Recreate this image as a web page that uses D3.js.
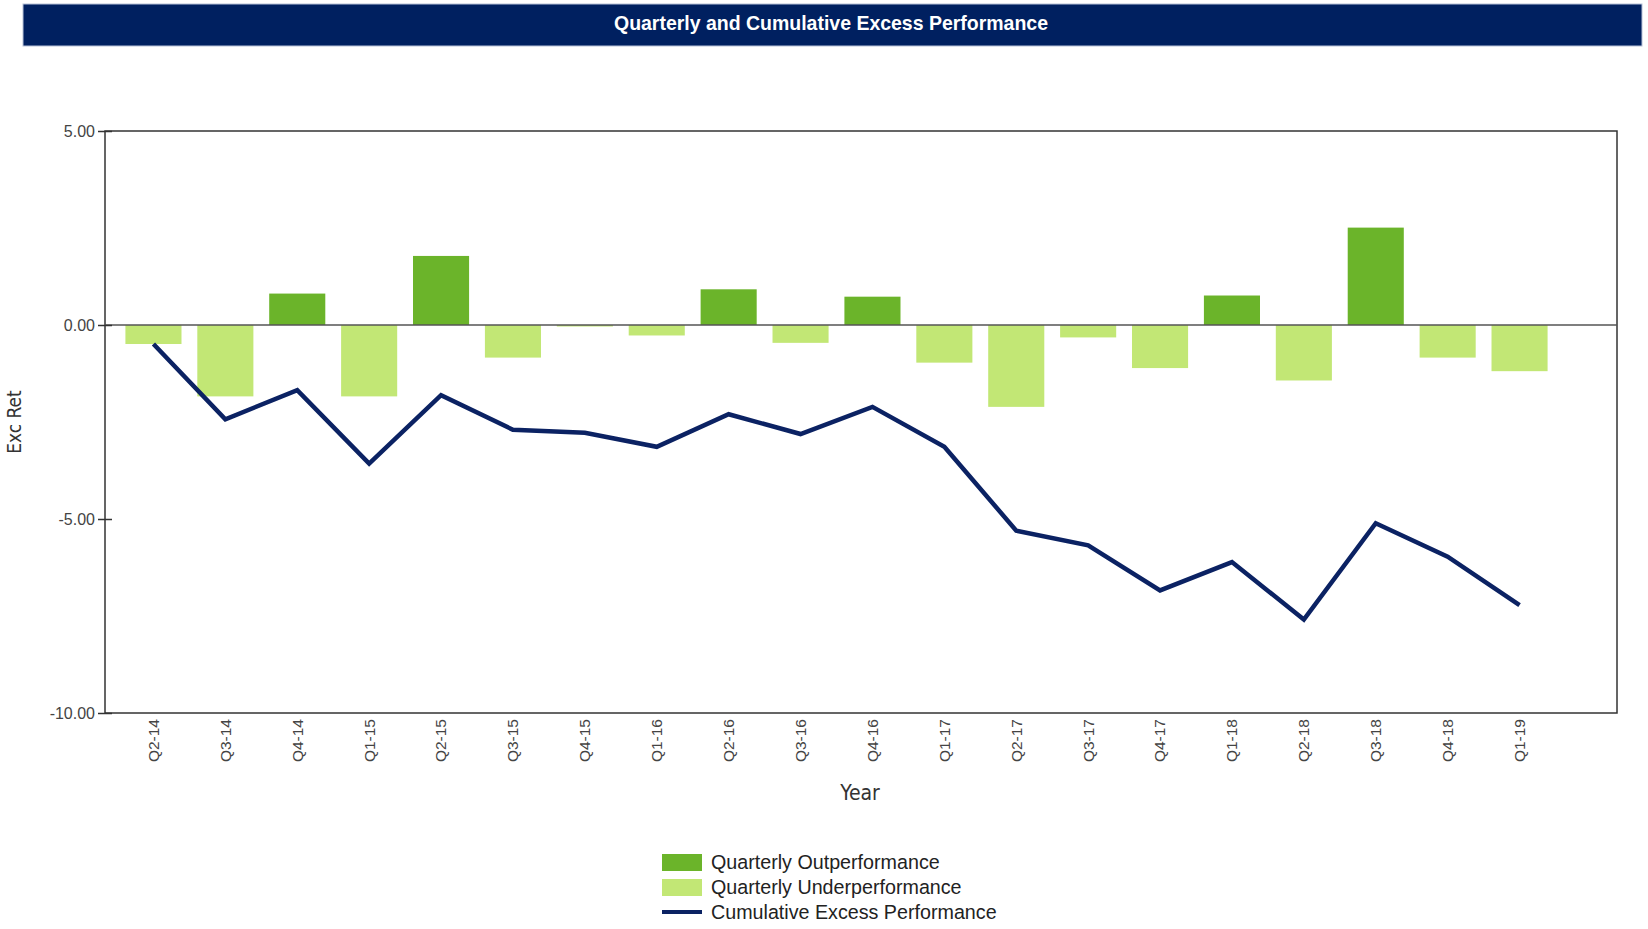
<!DOCTYPE html>
<html>
<head>
<meta charset="utf-8">
<script src="https://cdn.jsdelivr.net/npm/d3@7"></script>
<style>
  body { margin: 0; background: #fff; }
  text { font-family: "Liberation Sans", Arial, sans-serif; }
</style>
</head>
<body>
<div id="chart"></div>
<script>
// data
const quarters = ["Q2-14","Q3-14","Q4-14","Q1-15","Q2-15","Q3-15","Q4-15","Q1-16","Q2-16","Q3-16",
                  "Q4-16","Q1-17","Q2-17","Q3-17","Q4-17","Q1-18","Q2-18","Q3-18","Q4-18","Q1-19"];
const quarterly = [-0.49,-1.84,0.81,-1.84,1.78,-0.84,-0.03,-0.27,0.92,-0.46,
                   0.73,-0.97,-2.11,-0.32,-1.11,0.76,-1.43,2.51,-0.84,-1.19];
const cumulative = [-0.49,-2.43,-1.68,-3.57,-1.81,-2.70,-2.78,-3.14,-2.30,-2.81,
                    -2.11,-3.14,-5.30,-5.68,-6.84,-6.11,-7.59,-5.11,-5.97,-7.22];
const yTicks = [5, 0, -5, -10];
const legendItems = ["Quarterly Outperformance", "Quarterly Underperformance", "Cumulative Excess Performance"];

const W = 1648, H = 929;
const plot = { left: 105, right: 1617, top: 131, bottom: 713 };
const navy = "#0b2263", darkGreen = "#6bb42a", lightGreen = "#c2e775";

const svg = d3.select("#chart").append("svg")
  .attr("width", W)
  .attr("height", H);

// title bar
svg.append("rect")
  .attr("x", 23).attr("y", 4)
  .attr("width", 1619).attr("height", 42)
  .attr("fill", "#002060")
  .attr("stroke", "#b8c2d8").attr("stroke-width", 1);
svg.append("text")
  .attr("x", 831).attr("y", 23)
  .attr("dy", "0.35em")
  .attr("text-anchor", "middle")
  .attr("textLength", 434)
  .attr("lengthAdjust", "spacingAndGlyphs")
  .style("font-weight", "bold")
  .style("font-size", "21px")
  .attr("fill", "#fff")
  .text("Quarterly and Cumulative Excess Performance");

// scales
const xScale = d3.scaleBand().domain(quarters).range([117.5, 1555.5]).paddingInner(0.22).paddingOuter(0.11);
const yScale = d3.scaleLinear().domain([-10, 5]).range([plot.bottom, plot.top]);

// frame
svg.append("rect")
  .attr("x", plot.left).attr("y", plot.top)
  .attr("width", plot.right - plot.left).attr("height", plot.bottom - plot.top)
  .attr("fill", "none")
  .attr("stroke", "#333").attr("stroke-width", 1.5);

// bars
svg.append("g").selectAll("rect")
  .data(quarterly)
  .join("rect")
  .attr("x", (d, i) => xScale(quarters[i]))
  .attr("width", xScale.bandwidth())
  .attr("y", d => yScale(Math.max(0, d)))
  .attr("height", d => Math.max(1.5, Math.abs(yScale(d) - yScale(0))))
  .attr("fill", d => d >= 0 ? darkGreen : lightGreen);

// zero line
svg.append("line")
  .attr("x1", plot.left).attr("x2", plot.right)
  .attr("y1", yScale(0)).attr("y2", yScale(0))
  .attr("stroke", "#555").attr("stroke-width", 1.5);

// cumulative line
const line = d3.line()
  .x((d, i) => xScale(quarters[i]) + xScale.bandwidth() / 2)
  .y(d => yScale(d));

svg.append("path")
  .datum(cumulative)
  .attr("d", line)
  .attr("fill", "none")
  .attr("stroke", navy)
  .attr("stroke-width", 4.5)
  .attr("stroke-linejoin", "miter");

// y axis (plain hyphen for negatives, like the original)
const yAxis = svg.append("g")
  .attr("transform", "translate(" + plot.left + ",0)")
  .call(d3.axisLeft(yScale).tickValues(yTicks).tickFormat(d => d.toFixed(2)).tickSize(7).tickPadding(3));
yAxis.select(".domain").remove();
yAxis.selectAll(".tick line").attr("x1", 7).attr("stroke", "#333").attr("stroke-width", 1.5);
yAxis.selectAll(".tick text")
  .style("font-size", "16px")
  .attr("fill", "#444");

// x axis
const xAxis = svg.append("g")
  .attr("transform", "translate(0," + plot.bottom + ")")
  .call(d3.axisBottom(xScale).tickSize(0));
xAxis.select(".domain").remove();
xAxis.selectAll(".tick text")
  .attr("transform", "rotate(-90)")
  .attr("x", -6).attr("y", 0)
  .attr("dy", "0.35em")
  .style("text-anchor", "end")
  .style("font-size", "15.5px")
  .attr("fill", "#444");

// axis titles
svg.append("text")
  .attr("transform", "translate(14,422) rotate(-90)")
  .attr("dy", "0.35em")
  .attr("text-anchor", "middle")
  .style("font-family", "'Liberation Sans Narrow', 'DejaVu Sans Condensed', sans-serif")
  .style("font-size", "19px")
  .attr("fill", "#333")
  .text("Exc Ret");

svg.append("text")
  .attr("x", 860).attr("y", 793)
  .attr("dy", "0.35em")
  .attr("text-anchor", "middle")
  .style("font-family", "'Liberation Sans Narrow', 'DejaVu Sans Condensed', sans-serif")
  .style("font-size", "21px")
  .attr("fill", "#333")
  .text("Year");

// legend
const legend = svg.append("g").attr("transform", "translate(662,862)");
legendItems.forEach((name, i) => {
  const g = legend.append("g").attr("transform", "translate(0," + (i * 25) + ")");
  if (i < 2) {
    g.append("rect")
      .attr("x", 0).attr("y", -8)
      .attr("width", 40).attr("height", 17)
      .attr("fill", i === 0 ? darkGreen : lightGreen);
  } else {
    g.append("line")
      .attr("x1", 0).attr("x2", 40)
      .attr("y1", 0).attr("y2", 0)
      .attr("stroke", navy).attr("stroke-width", 4);
  }
  g.append("text")
    .attr("x", 49).attr("y", 0)
    .attr("dy", "0.35em")
    .style("font-size", "19.7px")
    .attr("fill", "#222")
    .text(name);
});
</script>
</body>
</html>
